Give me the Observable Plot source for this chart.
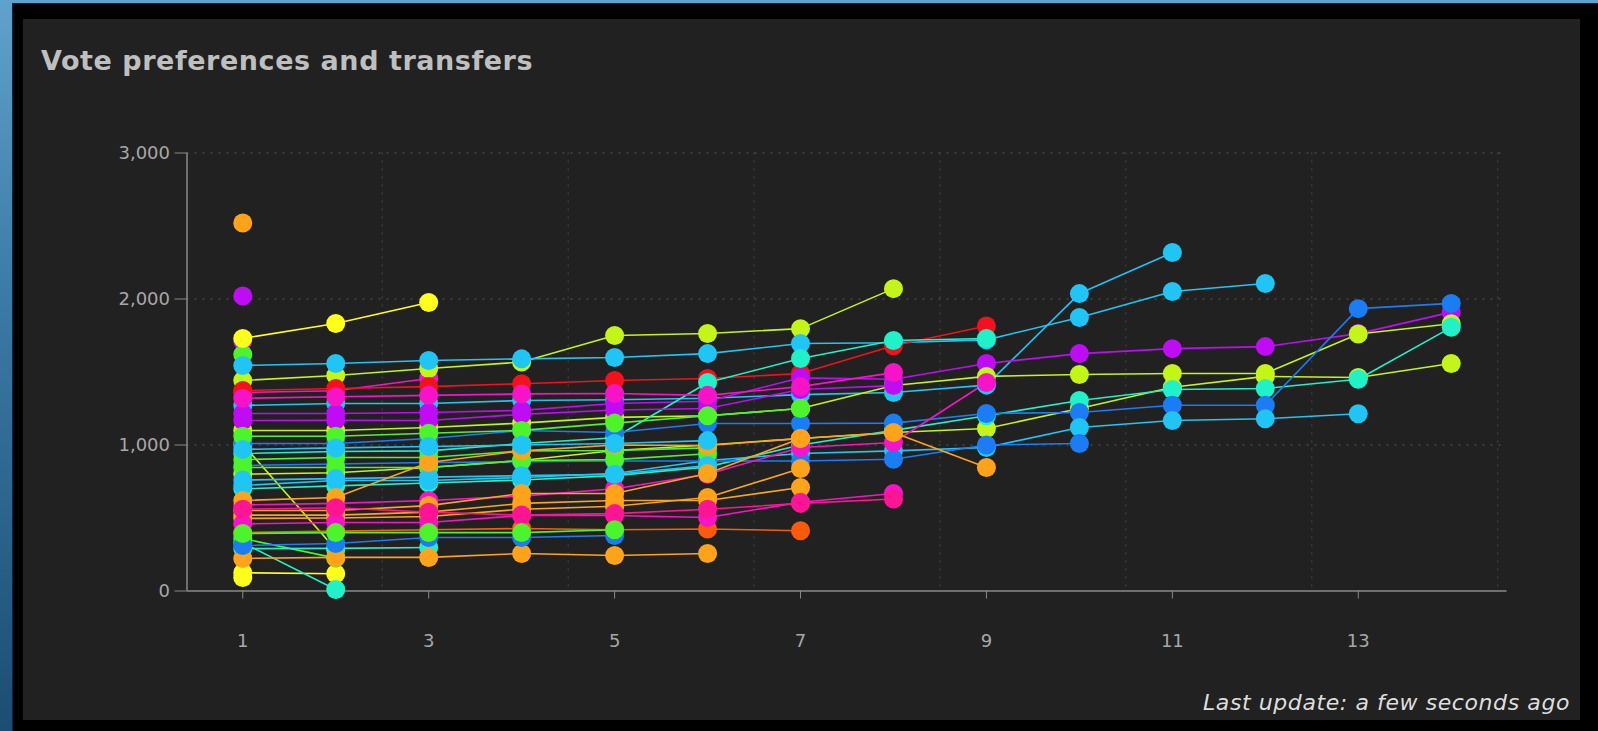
<!DOCTYPE html>
<html>
<head>
<meta charset="utf-8">
<script src="https://cdn.jsdelivr.net/npm/d3@7"></script>
<script src="https://cdn.jsdelivr.net/npm/@observablehq/plot@0.6"></script>
<style>
  html, body { margin: 0; padding: 0; width: 1598px; height: 731px; overflow: hidden; }
  body { background: linear-gradient(180deg, #5fa2cb 0%, #3b7ba7 40%, #1c4d72 100%); position: relative; font-family: "DejaVu Sans", sans-serif; }
  #frame { position: absolute; left: 12px; top: 3px; right: 0; bottom: 0; background: #000; border-left: 1px solid #0c2444; border-top: 1px solid #0c2444; }
  #panel { position: absolute; left: 23px; top: 19px; width: 1557px; height: 701px; background: #212121; }
  #title { position: absolute; left: 41px; top: 46.5px; font-size: 27px; line-height: 27px; font-weight: bold; color: #bfbfbf; white-space: nowrap; }
  #caption { position: absolute; right: 28px; top: 692px; font-size: 22px; line-height: 22px; font-style: italic; color: #dedede; white-space: nowrap; }
  #chart { position: absolute; left: 0; top: 0; }
</style>
</head>
<body>
<div id="frame"></div>
<div id="panel"></div>
<div id="title">Vote preferences and transfers</div>
<div id="chart"></div>
<div id="caption">Last update: a few seconds ago</div>
<script>
// Count numbers (x axis)
const counts = [1, 2, 3, 4, 5, 6, 7, 8, 9, 10, 11, 12, 13, 14];
const xTicks = [1, 3, 5, 7, 9, 11, 13];
const yTicks = [0, 1000, 2000, 3000];
const xGrid = [2.5, 4.5, 6.5, 8.5, 10.5, 12.5, 14.5];
const yGrid = [1000, 2000, 3000];

// Candidate colours
const seriesColors = [
  "#ffa31a", "#c00cf5", "#c00cf5", "#4cf52a", "#ffff1a", "#ffff1a",
  "#1ff2c8", "#c3f516", "#4cf52a", "#ffff1a", "#f714c8", "#1ff2c8",
  "#c3f516", "#1fc6f5", "#f5101e", "#1fc6f5", "#c00cf5", "#c3f516",
  "#c3f516", "#1ff2c8", "#1ff2c8", "#1a7df5", "#1fc6f5", "#1a7df5",
  "#c00cf5", "#f714c8", "#f714c8", "#4cf52a", "#4cf52a", "#4cf52a",
  "#1fc6f5", "#ffa31a", "#ffa31a", "#ffa31a", "#ffa31a", "#fa5a0a",
  "#f714c8", "#ffa31a", "#ff1493", "#1a7df5", "#4cf52a", "#1fc6f5"
];

// Votes per count for each candidate (count 1 onward, until exclusion/election)
const seriesValues = [
  [2520],
  [2020],
  [1712],
  [1620],
  [92],
  [125, 118],
  [330, 10],
  [1005, 285],
  [360, 225],
  [1730, 1832, 1976],
  [1360, 1372, 1455],
  [290, 292, 298],
  [1442, 1476, 1524, 1568, 1750, 1764, 1797, 2071],
  [1545, 1558, 1579, 1590, 1599, 1626, 1695, 1700, 1720, 1873, 2051, 2106],
  [1373, 1387, 1400, 1420, 1442, 1455, 1490, 1680, 1815],
  [1271, 1284, 1284, 1305, 1310, 1320, 1345, 1360, 1410, 2037, 2318],
  [1216, 1216, 1223, 1237, 1284, 1300, 1460, 1450, 1558, 1626, 1660, 1674, 1763, 1910],
  [1099, 1099, 1120, 1150, 1189, 1200, 1250, 1407, 1470, 1483, 1490, 1490, 1760, 1830],
  [800, 810, 846, 894, 962, 1000, 1045, 1086, 1113, 1250, 1396, 1470, 1462, 1558],
  [942, 955, 960, 1010, 1050, 1428, 1592, 1716, 1729],
  [700, 720, 740, 760, 790, 850, 1000, 1100, 1200, 1305, 1380, 1387, 1450, 1806],
  [1010, 1010, 1045, 1099, 1086, 1147, 1147, 1150, 1216, 1223, 1272, 1272, 1934, 1970],
  [723, 757, 757, 777, 805, 894, 942, 960, 983, 1120, 1168, 1180, 1214],
  [860, 870, 880, 885, 890, 890, 890, 902, 1000, 1010],
  [1168, 1170, 1168, 1210, 1240, 1250, 1380, 1407],
  [1320, 1330, 1340, 1350, 1353, 1340, 1400, 1496],
  [590, 600, 620, 650, 700, 800, 983, 1017, 1428],
  [1060, 1060, 1080, 1100, 1150, 1200, 1250],
  [900, 914, 914, 960, 962, 980],
  [846, 846, 846, 894, 900, 940],
  [760, 770, 780, 790, 800, 860],
  [551, 551, 585, 668, 668, 805, 1045, 1086, 846],
  [520, 520, 540, 600, 620, 620, 709],
  [497, 500, 510, 560, 580, 640, 839],
  [223, 230, 230, 257, 243, 257],
  [400, 410, 420, 428, 420, 425, 413],
  [460, 469, 469, 517, 517, 503, 608, 668],
  [620, 640, 880, 960, 1000, 997, 1045],
  [560, 570, 540, 520, 530, 560, 600, 630],
  [312, 325, 366, 366, 380],
  [394, 400, 400, 400, 420],
  [970, 980, 990, 1000, 1010, 1030]
];

const rows = seriesValues.flatMap((vals, i) =>
  vals.map((v, j) => ({ id: i, count: counts[j], votes: v, color: seriesColors[i] }))
);

const chart = Plot.plot({
  width: 1598,
  height: 731,
  marginLeft: 186.5,
  marginRight: 91.5,
  marginTop: 152.5,
  marginBottom: 140.5,
  style: { background: "transparent", color: "#a8a8a8", fontFamily: "'DejaVu Sans', sans-serif", fontSize: "18px" },
  x: { domain: [0.4, 14.6] },
  y: { domain: [0, 3000] },
  color: { type: "identity" },
  marks: [
    Plot.ruleY(yGrid, { stroke: "#5a5a5a", strokeDasharray: "2,6", strokeWidth: 1 }),
    Plot.ruleX(xGrid, { stroke: "#4a4a4a", strokeDasharray: "2,6", strokeWidth: 1 }),
    Plot.axisY({ ticks: yTicks, tickSize: 12, tickPadding: 5, tickFormat: d3.format(","), label: null, stroke: "#8a8a8a", color: "#a8a8a8" }),
    Plot.axisX({ ticks: xTicks, tickSize: 8, tickPadding: 35, tickFormat: d => String(d), label: null, stroke: "#8a8a8a", color: "#a8a8a8" }),
    Plot.ruleX([0.4], { stroke: "#8a8a8a", strokeWidth: 1.5 }),
    Plot.ruleY([0], { stroke: "#8a8a8a", strokeWidth: 1.5 }),
    Plot.line(rows, { x: "count", y: "votes", z: "id", stroke: "color", strokeWidth: 1.6 }),
    Plot.dot(rows, { x: "count", y: "votes", fill: "color", r: 9.5 })
  ]
});
document.getElementById("chart").appendChild(chart);

// Stretch the text spacing so the wide dashboard font is approximated
function fitWidth(id, target) {
  const el = document.getElementById(id);
  const w = el.getBoundingClientRect().width;
  const n = el.textContent.length;
  el.style.letterSpacing = ((target - w) / n).toFixed(2) + "px";
}
fitWidth("title", 492);
fitWidth("caption", 367);
</script>
</body>
</html>
